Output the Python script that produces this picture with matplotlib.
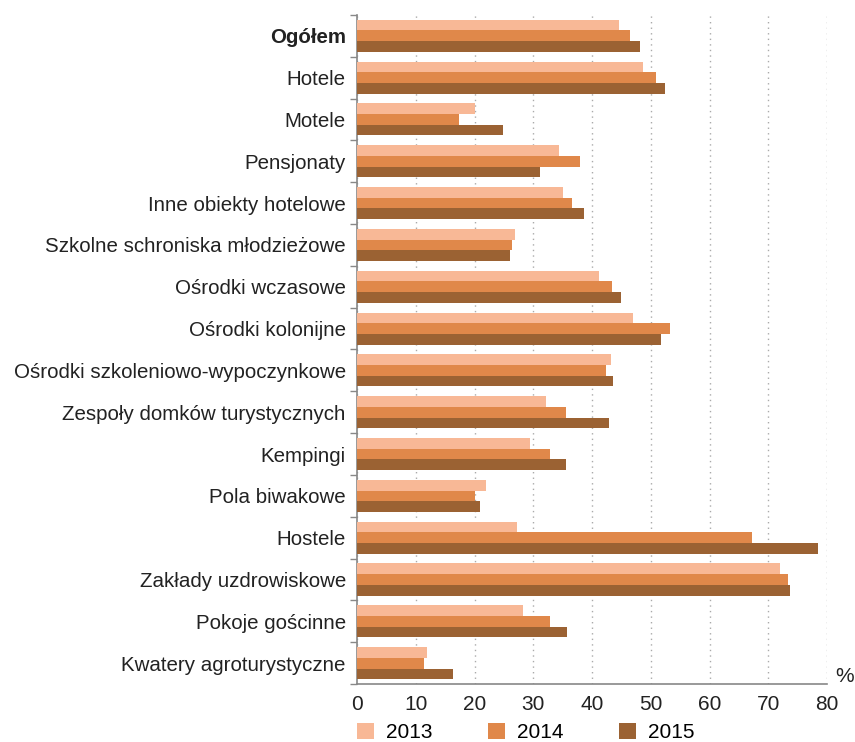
import numpy as np
import matplotlib.pyplot as plt
from matplotlib.patches import Patch

plt.rcParams['font.family'] = ['Liberation Sans', 'DejaVu Sans']

categories = ['Ogółem', 'Hotele', 'Motele', 'Pensjonaty', 'Inne obiekty hotelowe',
              'Szkolne schroniska młodzieżowe', 'Ośrodki wczasowe', 'Ośrodki kolonijne',
              'Ośrodki szkoleniowo-wypoczynkowe', 'Zespoły domków turystycznych',
              'Kempingi', 'Pola biwakowe', 'Hostele', 'Zakłady uzdrowiskowe',
              'Pokoje gościnne', 'Kwatery agroturystyczne']
years = ['2013', '2014', '2015']
v2013 = [44.5, 48.6, 20.0, 34.3, 35.1, 26.9, 41.2, 46.9, 43.2, 32.1, 29.4, 22.0, 27.2, 72.0, 28.2, 11.9]
v2014 = [46.4, 50.9, 17.4, 38.0, 36.6, 26.4, 43.4, 53.3, 42.3, 35.6, 32.8, 20.0, 67.2, 73.3, 32.9, 11.4]
v2015 = [48.2, 52.4, 24.8, 31.2, 38.6, 26.0, 44.9, 51.8, 43.5, 42.8, 35.6, 21.0, 78.4, 73.6, 35.8, 16.4]
colors = ['#F8B896', '#E0884A', '#9B6233']

fig = plt.figure(figsize=(8.55, 7.42), dpi=100)
ax = fig.add_axes([0.4175, 0.078, 0.55, 0.902])

y = np.arange(len(categories))
h = 0.256
for i, (vals, c) in enumerate(zip([v2013, v2014, v2015], colors)):
    ax.barh(y + (i - 1) * h, vals, height=h, color=c, zorder=3)

ax.set_xlim(0, 80)
ax.set_ylim(len(categories) - 0.5, -0.5)
ax.set_xticks(np.arange(0, 81, 10))
ax.tick_params(axis='x', length=0, labelsize=15, pad=8, colors='#222222')
ax.set_yticks(y)
ax.set_yticklabels(categories)
ax.tick_params(axis='y', which='major', length=0, labelsize=14.8, pad=8, colors='#222222')
ax.set_yticks(np.arange(-0.5, len(categories), 1), minor=True)
ax.tick_params(axis='y', which='minor', length=5, color='#888888', width=1)
ax.get_yticklabels()[0].set_fontweight('bold')

ax.grid(axis='x', linestyle=(0, (1, 3)), color='#aaaaaa', linewidth=1, zorder=0)
for s in ['top', 'right']:
    ax.spines[s].set_visible(False)
for s in ['left', 'bottom']:
    ax.spines[s].set_color('#888888')
    ax.spines[s].set_linewidth(1.2)

fig.text(0.999, 0.088, '%', fontsize=15, ha='right', va='center', color='#222222')

handles = [Patch(facecolor=c, edgecolor='none') for c in colors]
fig.legend(handles, years, loc='center left', bbox_to_anchor=(0.396, 0.013), ncol=3,
           frameon=False, fontsize=15, handlelength=0.8, handleheight=0.8,
           handletextpad=0.6, columnspacing=2.65)

fig.savefig('out.png', dpi=100)
